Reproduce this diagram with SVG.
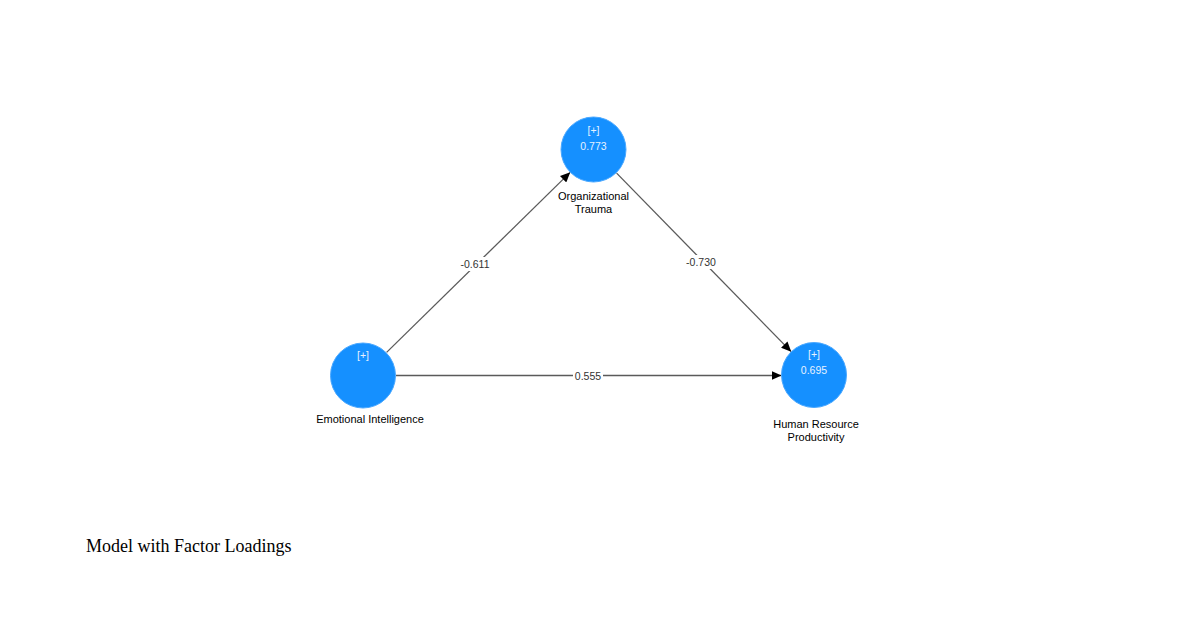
<svg xmlns="http://www.w3.org/2000/svg" width="1178" height="643" viewBox="0 0 1178 643">
<style>
.node{fill:#1590FF;stroke:#4AA8FF;stroke-width:1}
.in{font-family:"Liberation Sans",Arial,sans-serif;font-size:10.5px;fill:#E6F2FF;text-anchor:middle}
.lbl{font-family:"Liberation Sans",Arial,sans-serif;font-size:11px;fill:#000;text-anchor:middle}
.edge{stroke:#5a5a5a;stroke-width:1.3;fill:none}
.el{font-family:"Liberation Sans",Arial,sans-serif;font-size:10.5px;fill:#333;text-anchor:middle}
.cap{font-family:"Liberation Serif","Times New Roman",serif;font-size:18px;fill:#000}
</style>
<defs>
<marker id="arr" markerWidth="10" markerHeight="9" refX="9.5" refY="4.5" orient="auto" markerUnits="userSpaceOnUse">
<path d="M0,0 L10,4.5 L0,9 Z" fill="#000"/>
</marker>
</defs>
<rect width="1178" height="643" fill="#fff"/>
<g id="connectors">
<line class="edge" x1="386.6" y1="352.4" x2="569.9" y2="172.6" marker-end="url(#arr)"/>
<line class="edge" x1="616.6" y1="173.1" x2="790.9" y2="351.4" marker-end="url(#arr)"/>
<line class="edge" x1="396" y1="375.5" x2="781" y2="375.5" marker-end="url(#arr)"/>
<rect x="458" y="257" width="34" height="14" fill="#fff"/>
<text class="el" x="475" y="268">-0.611</text>
<rect x="684" y="255" width="34" height="14" fill="#fff"/>
<text class="el" x="701" y="266">-0.730</text>
<rect x="573" y="369" width="30" height="14" fill="#fff"/>
<text class="el" x="588" y="380">0.555</text>
</g>
<g id="node-ot">
<circle class="node" cx="593.5" cy="149.5" r="32.5"/>
<text class="in" x="593.5" y="134">[+]</text>
<text class="in" x="593.5" y="150">0.773</text>
<text class="lbl" x="593.5" y="200">Organizational</text>
<text class="lbl" x="593.5" y="213">Trauma</text>
</g>
<g id="node-ei">
<circle class="node" cx="363" cy="375.5" r="32.5"/>
<text class="in" x="363" y="359">[+]</text>
<text class="lbl" x="370" y="423">Emotional Intelligence</text>
</g>
<g id="node-hrp">
<circle class="node" cx="814" cy="375" r="32.5"/>
<text class="in" x="814" y="358">[+]</text>
<text class="in" x="814" y="374">0.695</text>
<text class="lbl" x="816" y="428">Human Resource</text>
<text class="lbl" x="816" y="441">Productivity</text>
</g>
<text class="cap" x="86" y="552">Model with Factor Loadings</text>
</svg>
